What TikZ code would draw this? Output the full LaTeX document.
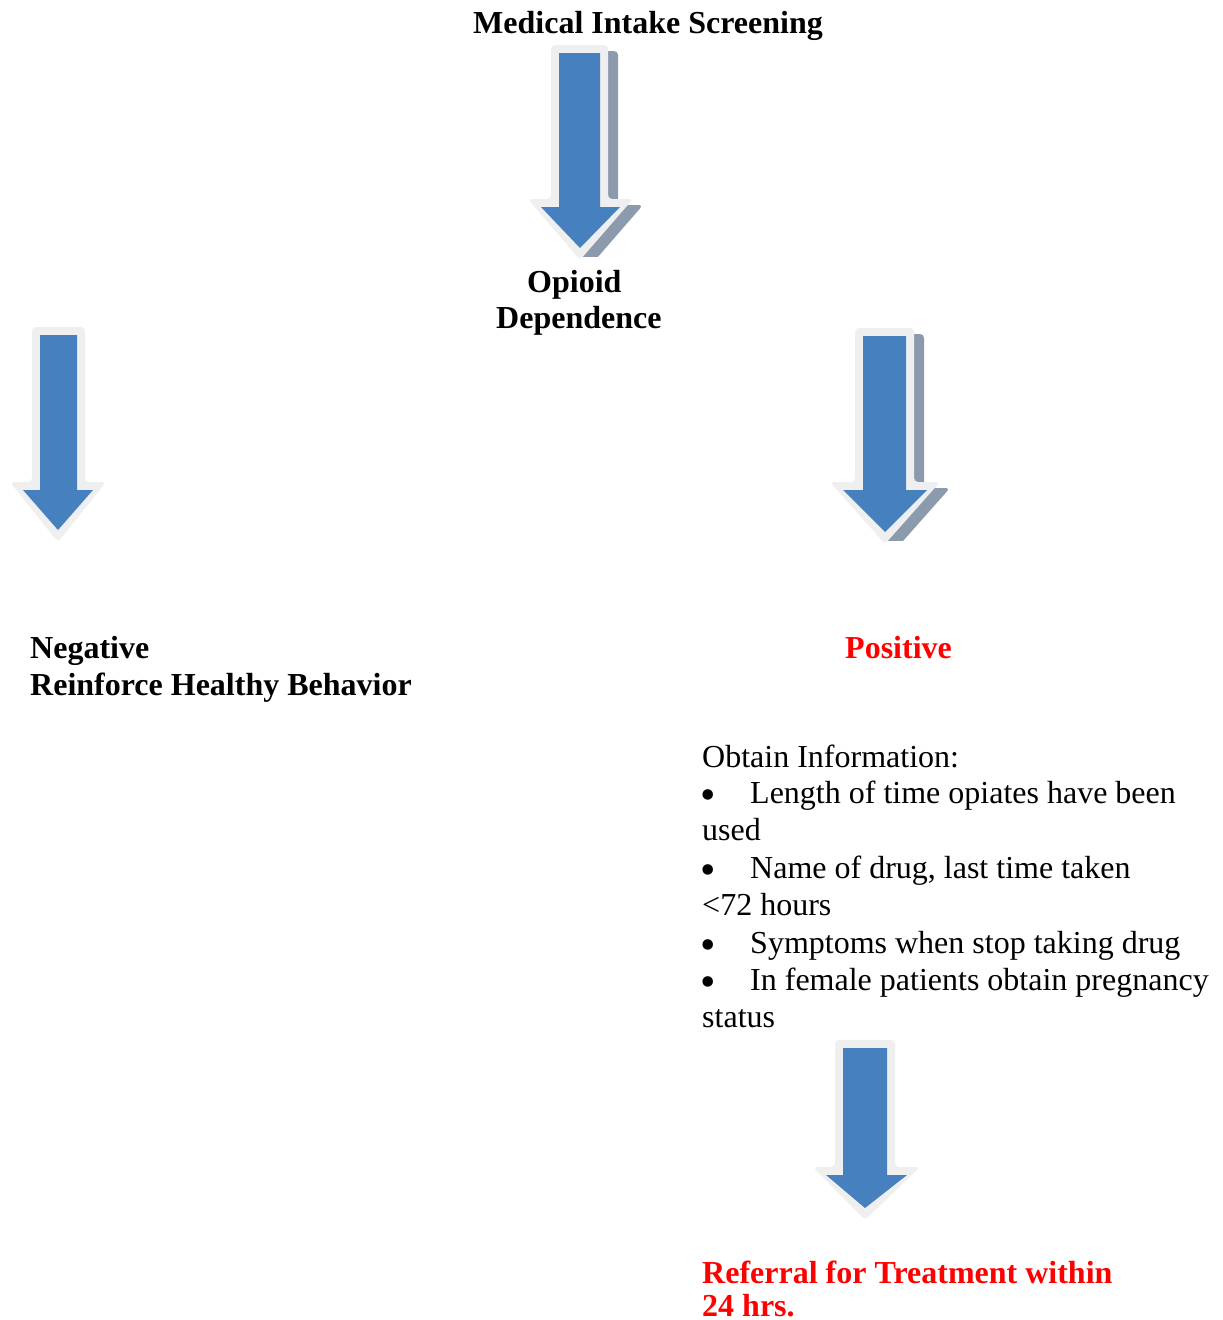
\documentclass[tikz,border=0pt]{standalone}
\usepackage{fontspec}
\setmainfont{Liberation Serif}
\definecolor{arrblue}{HTML}{4680BE}
\definecolor{arrrim}{HTML}{EFEFEF}
\definecolor{arrshadow}{HTML}{8C9AAD}
\definecolor{txtred}{HTML}{FF0000}
% #1 shaft left, #2 shaft right, #3 top, #4 head y, #5 head left, #6 head right, #7 tip x, #8 tip y
\newcommand{\arrpath}[8]{(#1,#3) -- (#2,#3) -- (#2,#4) -- (#6,#4) -- (#7,#8) -- (#5,#4) -- (#1,#4) -- cycle}
\newcommand{\rimpath}[8]{(#1-8,#3-8) -- (#2+8,#3-8) -- (#2+8,#4-8) -- (#6+13,#4-8) -- (#7,#8+12) -- (#5-13,#4-8) -- (#1-8,#4-8) -- cycle}
\newcommand{\blockarr}[8]{%
  \path[rim] \rimpath{#1}{#2}{#3}{#4}{#5}{#6}{#7}{#8};
  \path[body] \arrpath{#1}{#2}{#3}{#4}{#5}{#6}{#7}{#8};}
\newcommand{\shadowarr}[9]{%
  \begin{scope}
    \clip (0,0) rectangle (1223,#9);
    \path[shade, shift={(10,6)}] \rimpath{#1}{#2}{#3}{#4}{#5}{#6}{#7}{#8};
  \end{scope}}
\newcommand{\bul}{\smash{\raisebox{-6pt}{\fontsize{44}{44}\selectfont •}}}
\tikzset{
  rim/.style={fill=arrrim, rounded corners=4pt},
  body/.style={fill=arrblue},
  shade/.style={fill=arrshadow, rounded corners=4pt},
  txt/.style={inner sep=0pt, anchor=base west, font=\fontsize{32}{37}\selectfont},
  btxt/.style={txt, font=\fontsize{32}{37}\selectfont\bfseries},
  rtxt/.style={btxt, text=txtred}
}
\begin{document}
\begin{tikzpicture}[x=1pt, y=-1pt]
\useasboundingbox (0,0) rectangle (1223,1320);
\fill[white] (0,0) rectangle (1223,1320);
% arrows
\shadowarr{559}{600}{53}{207}{541}{620}{580}{248}{256}
\blockarr{559}{600}{53}{207}{541}{620}{580}{248}
\blockarr{40}{77}{335}{490}{23}{93}{58}{530}
\shadowarr{863}{906}{336}{490}{843}{927}{885}{532}{540}
\blockarr{863}{906}{336}{490}{843}{927}{885}{532}
\blockarr{843}{887}{1048}{1175}{826}{907}{865}{1208}
% texts
\node[btxt] (mis) at (473,33) {Medical Intake Screening};
\node[btxt] (op1) at (527,292) {Opioid};
\node[btxt] (op2) at (496,328) {Dependence};
\node[btxt] (neg1) at (30,658) {Negative};
\node[btxt] (neg2) at (30,695) {Reinforce Healthy Behavior};
\node[rtxt] (pos) at (845,658) {Positive};
\node[txt] (ob0) at (702,767) {Obtain Information:};
\node[txt] (b1) at (700,803) {\bul};
\node[txt] (ob1) at (750,803) {Length of time opiates have been};
\node[txt] (ob1b) at (702,840) {used};
\node[txt] (b2) at (700,878) {\bul};
\node[txt] (ob2) at (750,878) {Name of drug, last time taken};
\node[txt] (ob2b) at (702,915) {<72 hours};
\node[txt] (b3) at (700,953) {\bul};
\node[txt] (ob3) at (750,953) {Symptoms when stop taking drug};
\node[txt] (b4) at (700,990) {\bul};
\node[txt] (ob4) at (750,990) {In female patients obtain pregnancy};
\node[txt] (ob4b) at (702,1027) {status};
\node[rtxt] (ref1) at (702,1283) {Referral for Treatment within};
\node[rtxt] (ref2) at (702,1316) {24 hrs.};
\end{tikzpicture}
\end{document}
